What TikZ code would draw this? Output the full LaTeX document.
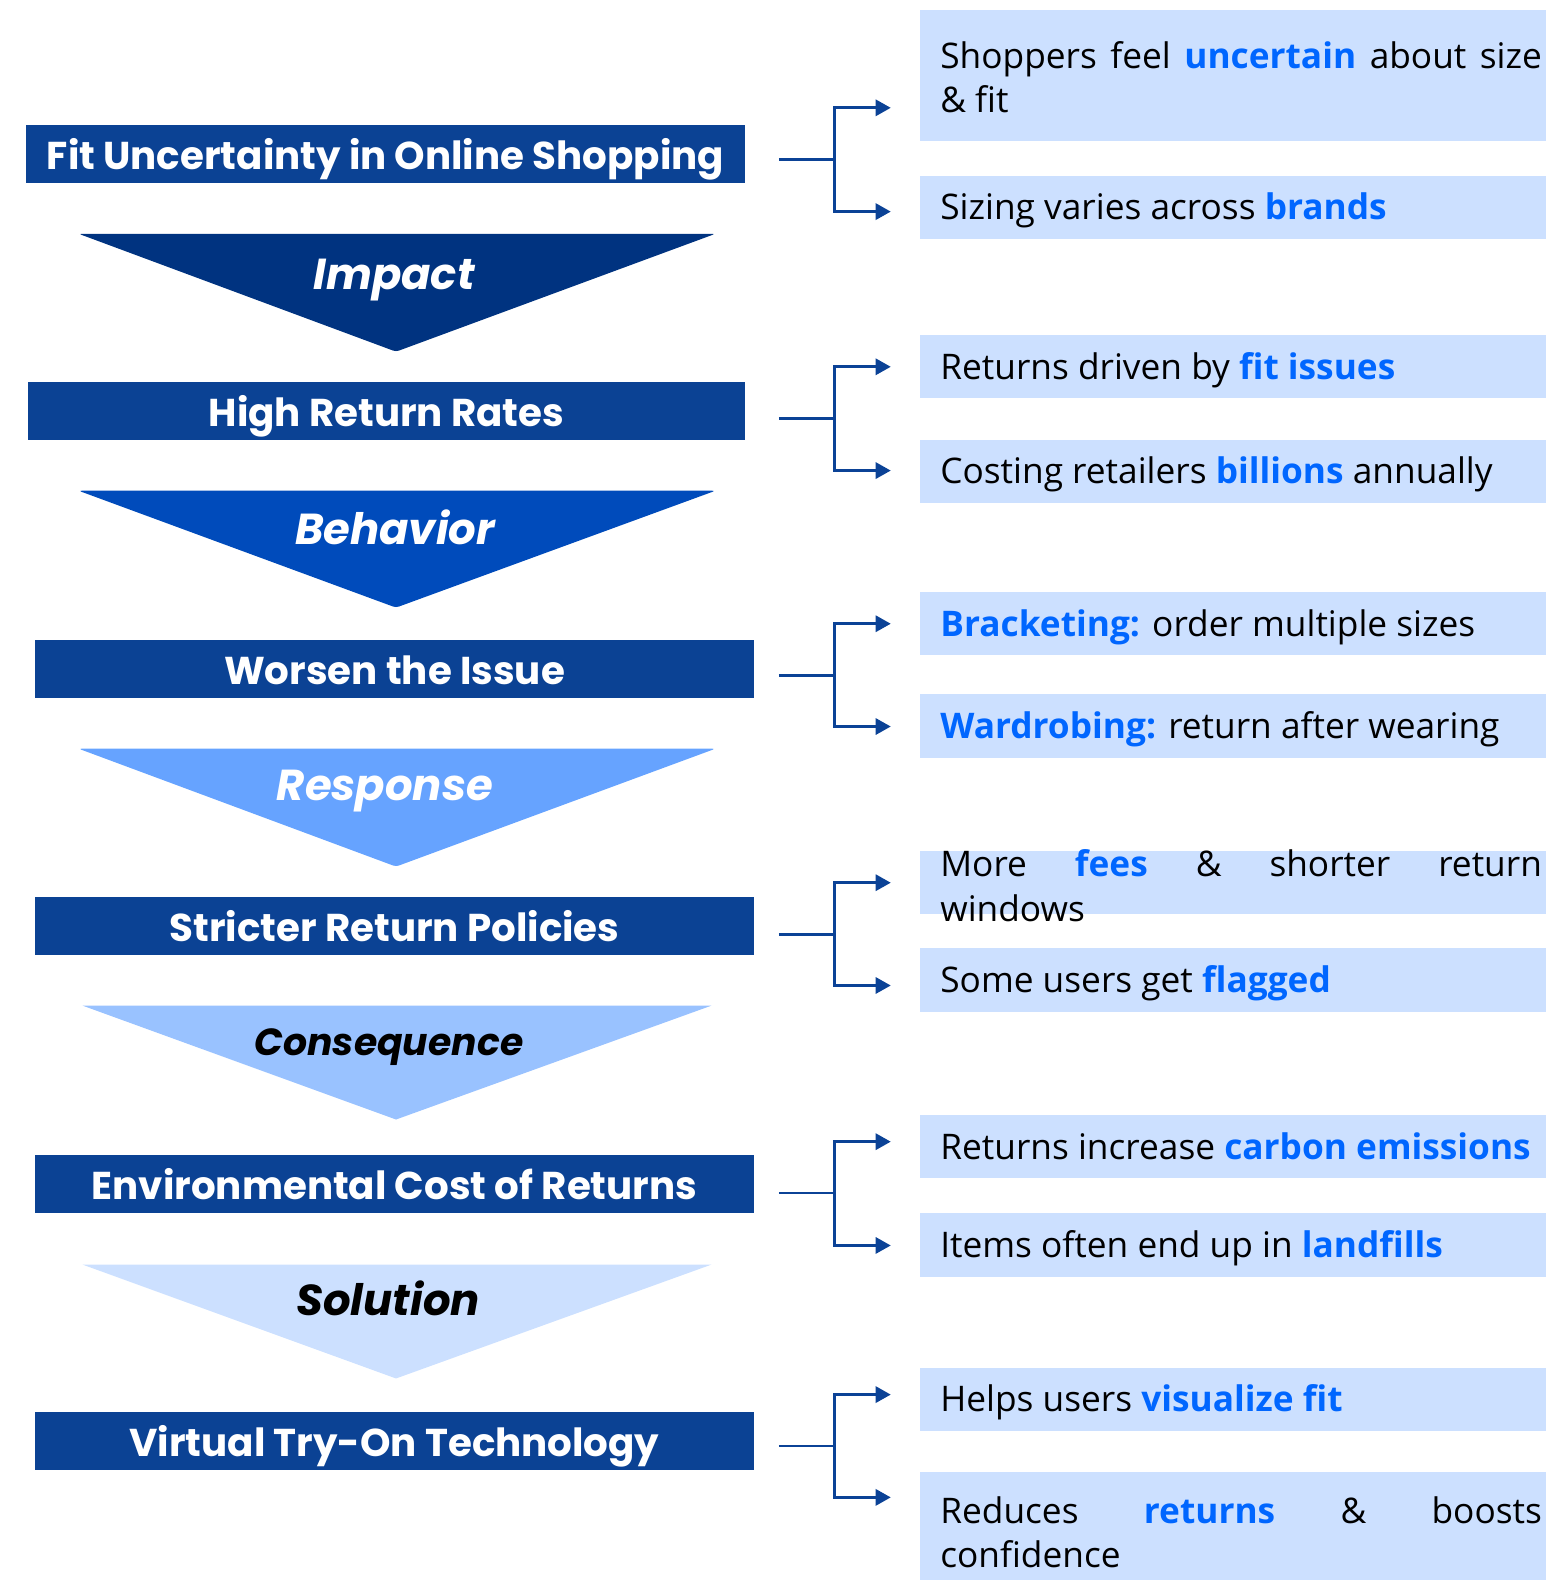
\documentclass[tikz,border=0pt]{standalone}
\usepackage{fontspec}
\setmainfont{Open Sans}
\newfontfamily\popfont{Poppins}
\usetikzlibrary{arrows.meta,calc}
\definecolor{barblue}{HTML}{0B4294}
\definecolor{triA}{HTML}{003380}
\definecolor{triB}{HTML}{004BBB}
\definecolor{triC}{HTML}{66A3FF}
\definecolor{triD}{HTML}{99C2FF}
\definecolor{triE}{HTML}{CCE0FF}
\definecolor{boxblue}{HTML}{CCE0FF}
\definecolor{hlblue}{HTML}{0066FF}
\definecolor{linkblue}{HTML}{0B4296}
\newcommand{\hlw}[1]{\textcolor{hlblue}{\textbf{#1}}}
\hyphenpenalty=10000
\exhyphenpenalty=10000
\begin{document}
\begin{tikzpicture}[x=1pt,y=-1pt,
  barbox/.style={fill=barblue, minimum width=713pt, minimum height=58pt, inner sep=0pt,
    text height=33pt, text depth=3pt,
    text=white, font=\popfont\bfseries\fontsize{38.5}{44}\selectfont},
  trilabel/.style={inner sep=0pt, text height=32pt, text depth=2pt,
    font=\popfont\bfseries\itshape\fontsize{43}{48}\selectfont},
  rbox/.style={fill=boxblue, minimum width=621pt, minimum height=63pt, inner sep=0pt, anchor=north west},
  rtext/.style={anchor=base west, text width=597pt, align=justify, inner sep=0pt,
    font=\fontsize{35}{44}\selectfont},
  link/.style={draw=linkblue, line width=2.8pt},
  linkarrow/.style={link, -{Triangle[length=15pt,width=16pt]}}
]
\useasboundingbox (0,0) rectangle (1534,1568);

% ---------- left column: bars ----------
\node[barbox, minimum width=713pt] (bar1) at (382.5,153) {Fit Uncertainty in Online Shopping};
\node[barbox, minimum width=711pt] (bar2) at (383.5,408) {High Return Rates};
\node[barbox] (bar3) at (391.5,664) {Worsen the Issue};
\node[barbox] (bar4) at (391.5,919) {Stricter Return Policies};
\node[barbox] (bar5) at (391.5,1175) {Environmental Cost of Returns};
\node[barbox] (bar6) at (391.5,1430) {Virtual Try-On Technology};

% ---------- left column: funnel arrows ----------
\fill[triA, rounded corners=3pt] (78,232) -- (710,232) -- (393,349) -- cycle;
\node[trilabel, text=white] (lab1) at (391,272) {Impact};
\fill[triB, rounded corners=3pt] (78,487) -- (710,487) -- (393,603) -- cycle;
\node[trilabel, text=white] (lab2) at (392,525) {Behavior};
\fill[triC, rounded corners=3pt] (78,743) -- (710,743) -- (393,860) -- cycle;
\node[trilabel, text=white] (lab3) at (382,779) {Response};
\fill[triD] (82,998) -- (706,998) -- (393,1111) -- cycle;
\node[trilabel, text=black, text height=28pt, text depth=2pt,
  font=\popfont\bfseries\itshape\fontsize{37.5}{44}\selectfont] (lab4) at (386,1034) {Consequence};
\fill[triE] (82,1255) -- (706,1255) -- (393,1368) -- cycle;
\node[trilabel, text=black] (lab5) at (385,1290) {Solution};

% ---------- right column: boxes ----------
\node[rbox, minimum height=130pt] (r1) at (913,10) {};
\node[rbox] (r2) at (913,174) {};
\node[rbox] (r3) at (913,332) {};
\node[rbox] (r4) at (913,436) {};
\node[rbox] (r5) at (913,587) {};
\node[rbox] (r6) at (913,689) {};
\node[rbox] (r7) at (913,844) {};
\node[rbox] (r8) at (913,941) {};
\node[rbox] (r9) at (913,1106) {};
\node[rbox] (r10) at (913,1204) {};
\node[rbox] (r11) at (913,1357) {};
\node[rbox, minimum height=119pt] (r12) at (913,1461) {};

% ---------- right column: texts ----------
\node[rtext] (t1) at ($(r1.north west)+(20,58)$) {Shoppers feel \hlw{uncertain} about size\linebreak \& fit};
\node[rtext] (t2) at ($(r2.west)+(20,12.5)$) {Sizing varies across \hlw{brands}};
\node[rtext] (t3) at ($(r3.west)+(20,12.5)$) {Returns driven by \hlw{fit issues}};
\node[rtext] (t4) at ($(r4.west)+(20,12.5)$) {Costing retailers \hlw{billions} annually};
\node[rtext] (t5) at ($(r5.west)+(20,12.5)$) {\hlw{Bracketing:} order multiple sizes};
\node[rtext] (t6) at ($(r6.west)+(20,12.5)$) {\hlw{Wardrobing:} return after wearing};
\node[rtext] (t7) at ($(r7.north west)+(20,26)$) {More \hlw{fees} \& shorter return\linebreak windows};
\node[rtext] (t8) at ($(r8.west)+(20,12.5)$) {Some users get \hlw{flagged}};
\node[rtext] (t9) at ($(r9.west)+(20,12.5)$) {Returns increase \hlw{carbon emissions}};
\node[rtext] (t10) at ($(r10.west)+(20,12.5)$) {Items often end up in \hlw{landfills}};
\node[rtext] (t11) at ($(r11.west)+(20,12.5)$) {Helps users \hlw{visualize fit}};
\node[rtext] (t12) at ($(r12.north west)+(20,51)$) {Reduces \hlw{returns} \& boosts\linebreak confidence};

% ---------- connectors ----------
\coordinate (s1) at (773,158);  \coordinate (j1) at (828,158);
\coordinate (a1) at (884,107);  \coordinate (b1) at (884,210);
\coordinate (s2) at (773,415);  \coordinate (j2) at (828,415);
\coordinate (a2) at (884,364);  \coordinate (b2) at (884,467);
\coordinate (s3) at (773,670);  \coordinate (j3) at (828,670);
\coordinate (a3) at (884,619);  \coordinate (b3) at (884,721);
\coordinate (s4) at (773,927);  \coordinate (j4) at (828,927);
\coordinate (a4) at (884,876);  \coordinate (b4) at (884,978);
\coordinate (s5) at (773,1184); \coordinate (j5) at (828,1184);
\coordinate (a5) at (884,1133); \coordinate (b5) at (884,1236);
\coordinate (s6) at (773,1435); \coordinate (j6) at (828,1435);
\coordinate (a6) at (884,1384); \coordinate (b6) at (884,1486);
\foreach \i in {1,...,6}{
  \draw[link] (s\i) -- (j\i);
  \draw[linkarrow] (j\i) |- (a\i);
  \draw[linkarrow] (j\i) |- (b\i);
}
\end{tikzpicture}
\end{document}
